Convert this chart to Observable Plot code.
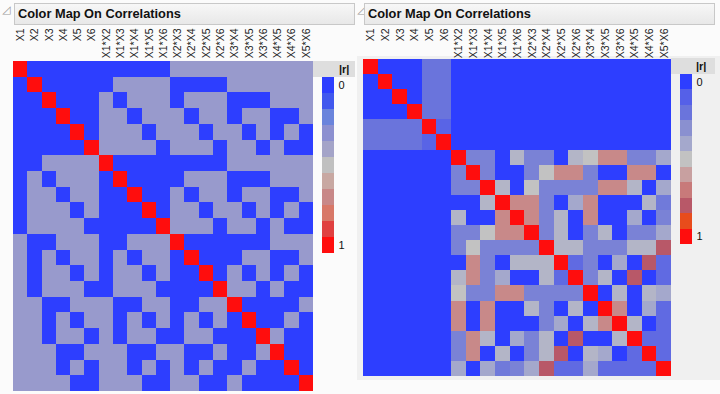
<!DOCTYPE html>
<html><head><meta charset="utf-8">
<script src="https://cdn.jsdelivr.net/npm/d3@7"></script>
<script src="https://cdn.jsdelivr.net/npm/@observablehq/plot@0.6"></script>
<style>
body{margin:0;width:720px;height:394px;position:relative;overflow:hidden;background:#fbfbfb;font-family:"Liberation Sans",Arial,sans-serif;}
.abs{position:absolute;}
.tri{position:absolute;top:3px;font-size:11px;color:#9a9a9a;font-family:"DejaVu Sans",sans-serif;}
.hdr{position:absolute;top:3px;height:22px;box-sizing:border-box;border:1px solid #c8c8c8;background:linear-gradient(#f7f7f7,#e8e8e8);font-weight:bold;font-size:12.8px;line-height:20px;padding-left:3px;color:#111;}
.band{position:absolute;background:#dedede;font-weight:bold;font-size:11px;line-height:16px;height:16px;color:#111;}
svg{display:block;}
</style></head><body>
<div class="abs" style="left:357px;top:56px;width:363px;height:324px;background:#f0f0f0;"></div>
<div class="tri" style="left:2px;">◿</div>
<div class="hdr" style="left:14px;width:341px;">Color Map On Correlations</div>
<div class="tri" style="left:357px;">◿</div>
<div class="hdr" style="left:364px;width:351px;">Color Map On Correlations</div>
<div class="band" style="left:313px;top:61px;width:42px;padding-left:26px;box-sizing:border-box;">|r|</div>
<div class="band" style="left:671px;top:58px;width:44px;padding-left:25px;box-sizing:border-box;">|r|</div>
<div id="left" class="abs" style="left:0;top:27px;"></div>
<div id="right" class="abs" style="left:357px;top:27px;"></div>
<div id="legL" class="abs" style="left:313px;top:61px;"></div>
<div id="legR" class="abs" style="left:671px;top:58px;"></div>
<script>
const labels = ["X1","X2","X3","X4","X5","X6",
  "X1*X2","X1*X3","X1*X4","X1*X5","X1*X6",
  "X2*X3","X2*X4","X2*X5","X2*X6",
  "X3*X4","X3*X5","X3*X6",
  "X4*X5","X4*X6","X5*X6"];
const legendSteps = [0,0.1,0.2,0.3,0.4,0.5,0.6,0.7,0.8,0.9,1];
const legendEnds = [0,1];
const leftRamp = ["#2d3eff","#4158ee","#6a84dc","#8c90d0","#a4a4c8","#c0c0c0","#c8a8a2","#c88888","#d87868","#e04040","#ff0d0d"];
const rightRamp = ["#2d3eff","#5560e8","#6a74dc","#8a90d0","#a4a8cc","#c2c2c2","#c8a0a0","#c87a7a","#b85868","#e84c1c","#ff0d0d"];

// left design: |r| of main effects / two-way interactions
const g = 0.35;
const leftRows = [
  [1,0,0,0,0,0, 0,0,0,0,0, g,g,g,g, g,g,g, g,g,g],
  [0,1,0,0,0,0, 0,g,g,g,g, 0,0,0,0, g,g,g, g,g,g],
  [0,0,1,0,0,0, g,0,g,g,g, 0,g,g,g, 0,0,0, g,g,g],
  [0,0,0,1,0,0, g,g,0,g,g, g,0,g,g, 0,g,g, 0,0,g],
  [0,0,0,0,1,0, g,g,g,0,g, g,g,0,g, g,0,g, 0,g,0],
  [0,0,0,0,0,1, g,g,g,g,0, g,g,g,0, g,g,0, g,0,0],
  [0,0,g,g,g,g, 1,0,0,0,0, 0,0,0,0, g,g,g, g,g,g],
  [0,g,0,g,g,g, 0,1,0,0,0, 0,g,g,g, 0,0,0, g,g,g],
  [0,g,g,0,g,g, 0,0,1,0,0, g,0,g,g, 0,g,g, 0,0,g],
  [0,g,g,g,0,g, 0,0,0,1,0, g,g,0,g, g,0,g, 0,g,0],
  [0,g,g,g,g,0, 0,0,0,0,1, g,g,g,0, g,g,0, g,0,0],
  [g,0,0,g,g,g, 0,0,g,g,g, 1,0,0,0, 0,0,0, g,g,g],
  [g,0,g,0,g,g, 0,g,0,g,g, 0,1,0,0, 0,g,g, 0,0,g],
  [g,0,g,g,0,g, 0,g,g,0,g, 0,0,1,0, g,0,g, 0,g,0],
  [g,0,g,g,g,0, 0,g,g,g,0, 0,0,0,1, g,g,0, g,0,0],
  [g,g,0,0,g,g, g,0,0,g,g, 0,0,g,g, 1,0,0, 0,0,g],
  [g,g,0,g,0,g, g,0,g,0,g, 0,g,0,g, 0,1,0, 0,g,0],
  [g,g,0,g,g,0, g,0,g,g,0, 0,g,g,0, 0,0,1, g,0,0],
  [g,g,g,0,0,g, g,g,0,0,g, g,0,0,g, 0,0,g, 1,0,0],
  [g,g,g,0,g,0, g,g,0,g,0, g,0,g,0, 0,g,0, 0,1,0],
  [g,g,g,g,0,0, g,g,g,0,0, g,g,0,0, g,0,0, 0,0,1]
];

// right design
const rightRows = [
  [1,0,0,0,.2,.2, 0,0,0,0,0,0,0,0,0,0,0,0,0,0,0],
  [0,1,0,0,.2,.2, 0,0,0,0,0,0,0,0,0,0,0,0,0,0,0],
  [0,0,1,0,.2,.2, 0,0,0,0,0,0,0,0,0,0,0,0,0,0,0],
  [0,0,0,1,.2,.2, 0,0,0,0,0,0,0,0,0,0,0,0,0,0,0],
  [.2,.2,.2,.2,1,.12, 0,0,0,0,0,0,0,0,0,0,0,0,0,0,0],
  [.2,.2,.2,.2,.12,1, 0,0,0,0,0,0,0,0,0,0,0,0,0,0,0],
  [0,0,0,0,0,0, 1,.25,.25,0,.45,.25,.25,0,.45,.5,.66,.66,.25,.25,.4],
  [0,0,0,0,0,0, .25,1,.25,0,0,.25,.5,.66,.66,.25,0,0,.66,.66,0],
  [0,0,0,0,0,0, .25,.25,1,.45,0,.5,.25,.25,.25,.25,.66,.66,.45,0,.4],
  [0,0,0,0,0,0, 0,0,.45,1,.66,.66,.25,0,.4,.66,0,0,0,.45,.22],
  [0,0,0,0,0,0, .45,0,0,.66,1,.66,.25,.45,0,.66,0,0,.4,0,.25],
  [0,0,0,0,0,0, .25,.25,.5,.66,.66,1,.25,.45,0,.25,.45,0,.25,.25,.4],
  [0,0,0,0,0,0, .25,.5,.25,.25,.25,.25,1,.45,.45,.25,.25,.25,.45,.45,.8],
  [0,0,0,0,0,0, 0,.66,.25,0,.45,.45,.45,1,.15,.25,0,.4,0,.8,.15],
  [0,0,0,0,0,0, .45,.66,.25,.4,0,0,.45,.15,1,.25,.45,0,.8,0,.15],
  [0,0,0,0,0,0, .5,.25,.25,.66,.66,.25,.25,.25,.25,1,0,.45,0,.45,.4],
  [0,0,0,0,0,0, .66,0,.66,0,0,.45,.25,0,.45,0,1,.66,0,.4,.15],
  [0,0,0,0,0,0, .66,0,.66,0,0,0,.25,.4,0,.45,.66,1,.45,0,.15],
  [0,0,0,0,0,0, .25,.66,.45,0,.4,.25,.45,0,.8,0,0,.45,1,.15,.15],
  [0,0,0,0,0,0, .25,.66,0,.45,0,.25,.45,.8,0,.45,.4,0,.15,1,.15],
  [0,0,0,0,0,0, .4,0,.4,.22,.25,.4,.8,.15,.15,.4,.15,.15,.15,.15,1]
];

function tidy(rows) {
  const out = [];
  rows.forEach((row, i) => row.forEach((r, j) => out.push({row: labels[i], col: labels[j], r})));
  return out;
}

function matrix(rows, ramp, o) {
  return Plot.plot({
    width: o.width, height: o.height,
    marginLeft: o.ml, marginRight: o.mr, marginTop: o.mt, marginBottom: o.mb,
    style: {background: "transparent", fontFamily: "Liberation Sans, Arial, sans-serif", fontSize: "10.5px", color: "#222", overflow: "visible"},
    x: {type: "band", domain: labels, padding: 0, round: false, axis: null},
    y: {type: "band", domain: labels, padding: 0, round: false, axis: null},
    color: {type: "linear", domain: legendSteps, range: ramp, interpolate: "rgb"},
    marks: [
      Plot.cell(tidy(rows), {x: "col", y: "row", fill: "r", shapeRendering: "crispEdges"}),
      Plot.text(labels, {x: d => d, frameAnchor: "top", dy: -(o.mt - 1), rotate: -90, textAnchor: "end", lineAnchor: "middle", fill: "#222"})
    ]
  });
}

function legend(ramp, o) {
  return Plot.plot({
    width: o.width, height: o.height,
    marginLeft: o.ml, marginRight: o.mr, marginTop: o.mt, marginBottom: 0,
    style: {background: "transparent", fontFamily: "Liberation Sans, Arial, sans-serif", fontSize: "11px", color: "#111", overflow: "visible"},
    x: {type: "band", domain: ["s"], padding: 0, round: false, axis: null},
    y: {type: "band", domain: legendSteps, padding: 0, round: false, axis: null},
    color: {type: "linear", domain: legendSteps, range: ramp, interpolate: "rgb"},
    marks: [
      Plot.cell(legendSteps, {x: () => "s", y: d => d, fill: d => d, shapeRendering: "crispEdges"}),
      Plot.text(legendEnds, {y: d => d, text: d => String(d), frameAnchor: "right", dx: 4, textAnchor: "start", fill: "#111"})
    ]
  });
}

document.getElementById("left").appendChild(matrix(leftRows, leftRamp, {width: 356, height: 367, ml: 13, mr: 43, mt: 34, mb: 3}));
document.getElementById("right").appendChild(matrix(rightRows, rightRamp, {width: 363, height: 353, ml: 6, mr: 49, mt: 32, mb: 4}));
document.getElementById("legL").appendChild(legend(leftRamp, {width: 43, height: 192, ml: 9, mr: 22, mt: 16}));
document.getElementById("legR").appendChild(legend(rightRamp, {width: 49, height: 186, ml: 9, mr: 28, mt: 16}));
</script>
</body></html>
